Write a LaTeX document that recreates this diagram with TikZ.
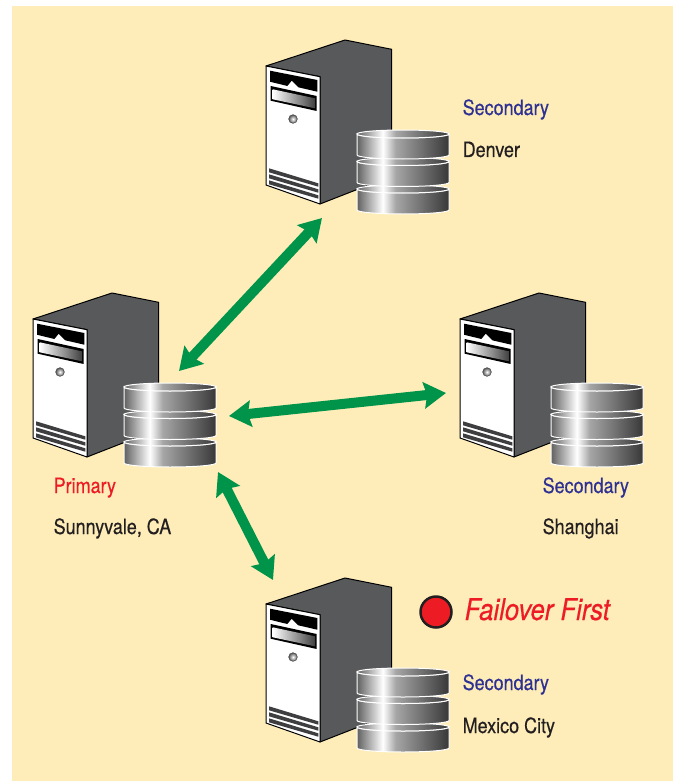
\documentclass[tikz,border=0pt]{standalone}
\usepackage{fontspec}
\setmainfont[FakeStretch=0.855,FakeBold=0.45]{TeX Gyre Heros}
\usetikzlibrary{arrows.meta}
\definecolor{paneltan}{HTML}{FEEDB9}
\definecolor{towergray}{HTML}{58595B}
\definecolor{linkgreen}{HTML}{00934A}
\definecolor{rolered}{HTML}{ED1C24}
\definecolor{roleblue}{HTML}{2E3192}
\definecolor{inkblack}{HTML}{231F20}
\pgfdeclarehorizontalshading{dbmetal}{100bp}{color(0bp)=(black!62); color(25bp)=(black!62); color(39bp)=(white); color(46bp)=(black!35); color(75bp)=(black!78); color(100bp)=(black!78)}
\pgfdeclarehorizontalshading{baymetal}{100bp}{color(0bp)=(white); color(25bp)=(white); color(75bp)=(black!75); color(100bp)=(black!75)}
\tikzset{
	towerface/.style={draw=black, line width=1pt, line join=round},
	dbdisk/.style={draw=white, line width=1pt, shading=dbmetal},
	rolelabel/.style={anchor=base west, font=\fontsize{21}{23}\selectfont},
	duplexlink/.style={{Stealth[length=22pt,width=26pt,inset=3pt]}-{Stealth[length=22pt,width=26pt,inset=3pt]}, line width=10pt, draw=linkgreen}
}
\def\dbdiskat(#1,#2){\path[dbdisk] (#1,#2) -- (#1,#2+21) arc (180:0:46 and 4) -- (#1+92,#2) arc (0:180:46 and 4) -- cycle;
	\path[dbdisk] (#1+46,#2) ellipse (46 and 4);}
\def\servertower(#1,#2){
	\begin{scope}[shift={(#1,#2)}]
		\draw[towerface, fill=towergray] (0,0) -- (79,-26) -- (125.7,-16.7) -- (125.7,110) -- (54,138) -- (54,10.7) -- cycle;
		\draw[towerface, fill=white] (0,0) -- (54,10.7) -- (54,138) -- (0,119) -- cycle;
		\fill[black] (4,4.7) -- (51.3,14) -- (51.3,25.7) -- (32.3,21.3) -- (25.7,14.7) -- (21.3,20) -- (4,15.7) -- cycle;
		\fill[black] (4.7,20) -- (50.7,30) -- (50.7,45) -- (4.7,34.7) -- cycle;
		\shade[shading=baymetal] (6.7,23.3) -- (49,32.3) -- (49,42.3) -- (6.7,33.3) -- cycle;
		\draw[black!70, inner color=white, outer color=black!65, line width=0.6pt] (27,53) circle (4.3);
		\foreach \ventoffset in {0,6,12} {
			\fill[towergray!70!black] (3,102.3+\ventoffset) -- (52.3,117.3+\ventoffset) -- (52.3,120.7+\ventoffset) -- (3,106.3+\ventoffset) -- cycle;
		}
		\dbdiskat(91,123)
		\dbdiskat(91,95.5)
		\dbdiskat(91,68)
	\end{scope}
}

\begin{document}
\begin{tikzpicture}[x=1pt,y=-1pt]
	%%%%% START %%%%%
	\useasboundingbox (0,0) rectangle (677,781);
	\fill[paneltan] (12,6) rectangle (673,781);

	\servertower(266,66)
	\servertower(33,319)
	\servertower(460,319)
	\servertower(266,604)

	\coordinate (denverend) at (322,218);
	\coordinate (primarytop) at (179,371);
	\coordinate (primaryright) at (229,416);
	\coordinate (shanghaiend) at (446,393);
	\coordinate (primarylow) at (218,472);
	\coordinate (mexicoend) at (273,580);
	\draw[duplexlink] (primarytop) -- (denverend);
	\draw[duplexlink] (primaryright) -- (shanghaiend);
	\draw[duplexlink] (primarylow) -- (mexicoend);

	\node[rolelabel, text=roleblue, inner sep=0pt] (denverrole) at (462.5,115) {Secondary};
	\node[rolelabel, text=inkblack, inner sep=0pt] (denvername) at (462.5,157) {Denver};
	\node[rolelabel, text=rolered, inner sep=0pt] (primaryrole) at (53.5,493) {Primary};
	\node[rolelabel, text=inkblack, inner sep=0pt] (primaryname) at (53.5,534) {Sunnyvale, CA};
	\node[rolelabel, text=roleblue, inner sep=0pt] (shanghairole) at (542.5,493) {Secondary};
	\node[rolelabel, text=inkblack, inner sep=0pt] (shanghainame) at (542.5,534) {Shanghai};
	\node[rolelabel, text=roleblue, inner sep=0pt] (mexicorole) at (462.5,690) {Secondary};
	\node[rolelabel, text=inkblack, inner sep=0pt] (mexiconame) at (462.5,733) {Mexico City};

	\draw[fill=rolered, draw=inkblack, line width=2.5pt] (436,612) circle (15.5);
	\node[anchor=base west, inner sep=0pt, text=rolered, font=\fontsize{30}{32}\selectfont\itshape] (failover) at (464.5,620) {Failover First};
	%%%%% END %%%%%
\end{tikzpicture}
\end{document}
